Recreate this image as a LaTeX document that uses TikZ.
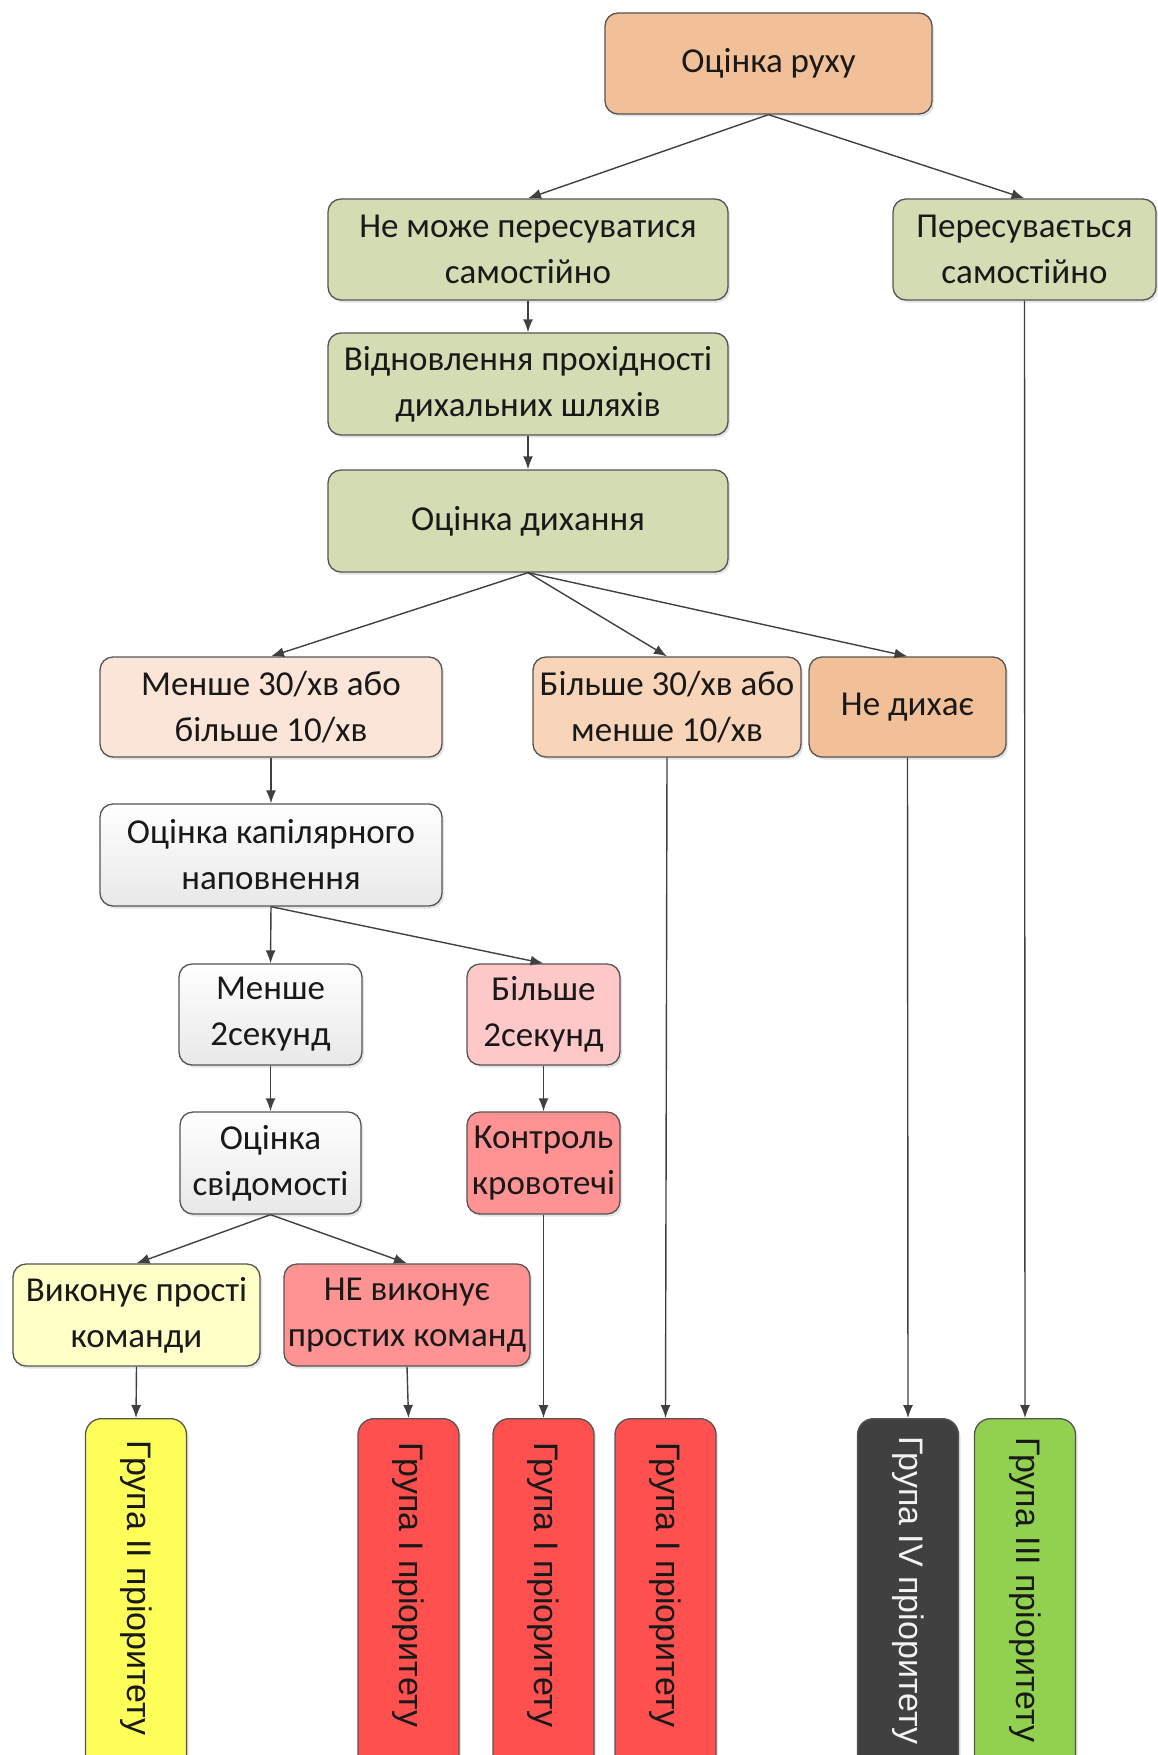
\documentclass[tikz,border=0pt]{standalone}
\usepackage{fontspec}
\setmainfont{Carlito}
\newfontfamily\barfont{Liberation Sans}
\usetikzlibrary{arrows.meta,shadows}
\definecolor{linegrey}{HTML}{555555}
\definecolor{arrowgrey}{HTML}{404040}
\definecolor{peach}{HTML}{F2C098}
\definecolor{sage}{HTML}{D3DCB3}
\definecolor{lightpeach}{HTML}{FBE5D8}
\definecolor{midpeach}{HTML}{F8D5B8}
\definecolor{pinklight}{HTML}{FFC8C8}
\definecolor{pinkmid}{HTML}{FF9393}
\definecolor{paleyellow}{HTML}{FFFFC8}
\definecolor{baryellow}{HTML}{FFFF5A}
\definecolor{barred}{HTML}{FF5050}
\definecolor{bardark}{HTML}{404040}
\definecolor{bargreen}{HTML}{92D050}
\begin{document}
\begin{tikzpicture}[x=1pt,y=-1pt,
  box/.style={draw=linegrey, line width=1.3pt, rounded corners=13pt, align=center,
    inner sep=0pt, font=\fontsize{35}{46}\selectfont, text=black!90,
    drop shadow={opacity=0.22, shadow xshift=2pt, shadow yshift=-2.5pt}},
  whitebox/.style={box, top color=white, bottom color=black!9},
  bar/.style={draw=linegrey, line width=1.3pt, rounded corners=16pt,
    minimum width=101pt, minimum height=400pt, anchor=north, inner sep=0pt,
    drop shadow={opacity=0.22, shadow xshift=2pt, shadow yshift=-2.5pt}},
  bartext/.style={rotate=-90, font=\barfont\fontsize{34}{40}\selectfont, text=black!90},
  arr/.style={draw=arrowgrey, line width=1.4pt, -{Latex[length=13pt,width=10pt]}}
]
\useasboundingbox (0,0) rectangle (1158,1755);
\clip (0,0) rectangle (1158,1755);

% boxes
\node[box, fill=peach, minimum width=327pt, minimum height=101pt] (n1) at (768.5,63.5) {Оцінка руху};
\node[box, fill=sage, minimum width=400pt, minimum height=101pt] (n2) at (528,249.5) {Не може пересуватися\\самостійно};
\node[box, fill=sage, minimum width=263pt, minimum height=101pt] (n3) at (1024.5,249.5) {Пересувається\\самостійно};
\node[box, fill=sage, minimum width=400pt, minimum height=102pt] (n4) at (528,384) {Відновлення прохідності\\дихальних шляхів};
\node[box, fill=sage, minimum width=400pt, minimum height=102pt] (n5) at (528,521) {Оцінка дихання};
\node[box, fill=lightpeach, minimum width=342pt, minimum height=100pt] (n6) at (271,707) {Менше 30/хв або\\більше 10/хв};
\node[box, fill=midpeach, minimum width=268pt, minimum height=100pt] (n7) at (667,707) {Більше 30/хв або\\менше 10/хв};
\node[box, fill=peach, minimum width=197pt, minimum height=100pt] (n8) at (907.5,707) {Не дихає};
\node[whitebox, minimum width=342pt, minimum height=102pt] (n9) at (271,855) {Оцінка капілярного\\наповнення};
\node[whitebox, minimum width=183pt, minimum height=101pt] (n10) at (270.5,1014.5) {Менше\\2секунд};
\node[box, fill=pinklight, minimum width=153pt, minimum height=101pt] (n11) at (543.5,1014.5) {Більше\\2секунд};
\node[whitebox, minimum width=181pt, minimum height=102pt] (n12) at (270.5,1163) {Оцінка\\свідомості};
\node[box, fill=pinkmid, minimum width=153pt, minimum height=102pt] (n13) at (543.5,1163) {Контроль\\кровотечі};
\node[box, fill=paleyellow, minimum width=247pt, minimum height=102pt] (n14) at (136.5,1315) {Виконує прості\\команди};
\node[box, fill=pinkmid, minimum width=246pt, minimum height=102pt] (n15) at (407,1315) {НЕ виконує\\простих команд};

% bars
\node[bar, fill=baryellow] (g1) at (136,1418) {};
\node[bar, fill=barred] (g2) at (408.5,1418) {};
\node[bar, fill=barred] (g3) at (543.5,1418) {};
\node[bar, fill=barred] (g4) at (665.5,1418) {};
\node[bar, fill=bardark] (g5) at (908,1418) {};
\node[bar, fill=bargreen] (g6) at (1025,1418) {};
\node[bartext] (t1) at (136,1588) {Група II пріоритету};
\node[bartext] (t2) at (408.5,1585) {Група I пріоритету};
\node[bartext] (t3) at (543.5,1585) {Група I пріоритету};
\node[bartext] (t4) at (665.5,1585) {Група I пріоритету};
\node[bartext, text=black!5] (t5) at (908,1590) {Група IV пріоритету};
\node[bartext] (t6) at (1025,1590) {Група III пріоритету};

% arrows
\draw[arr] (n1.south) -- (n2.north);
\draw[arr] (n1.south) -- (n3.north);
\draw[arr] (n2.south) -- (n4.north);
\draw[arr] (n4.south) -- (n5.north);
\draw[arr] (n5.south) -- (n6.north);
\draw[arr] (n5.south) -- (n7.north);
\draw[arr] (n5.south) -- (n8.north);
\draw[arr] (n6.south) -- (n9.north);
\draw[arr] (n9.south) -- (n10.north);
\draw[arr] (n9.south) -- (n11.north);
\draw[arr] (n10.south) -- (n12.north);
\draw[arr] (n11.south) -- (n13.north);
\draw[arr] (n12.south) -- (n14.north);
\draw[arr] (n12.south) -- (n15.north);
\draw[arr] (n14.south) -- (g1.north);
\draw[arr] (n15.south) -- (g2.north);
\draw[arr] (n13.south) -- (g3.north);
\draw[arr] (n7.south) -- (g4.north);
\draw[arr] (n8.south) -- (g5.north);
\draw[arr] (n3.south) -- (g6.north);
\end{tikzpicture}
\end{document}
